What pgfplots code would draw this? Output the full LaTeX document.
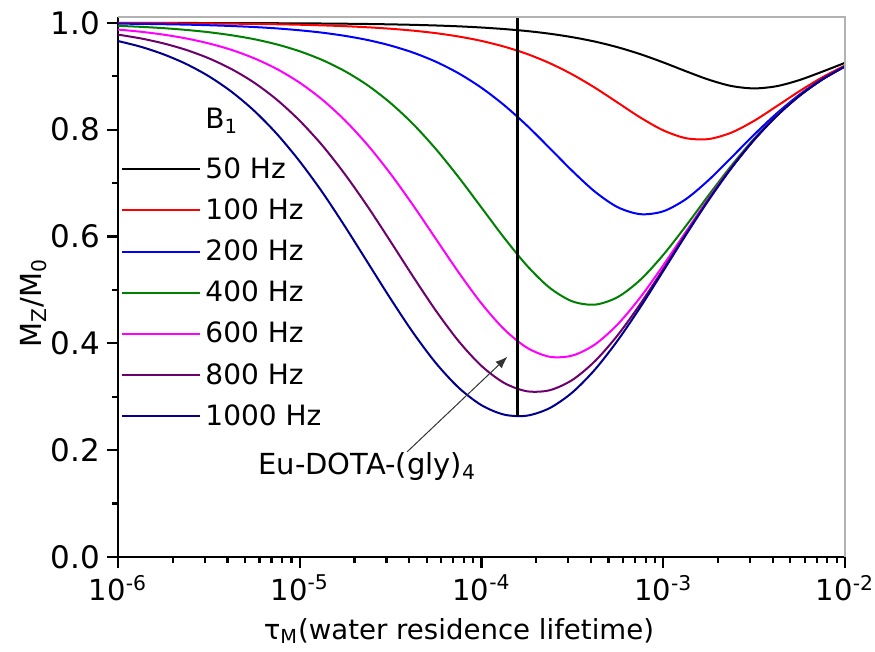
\documentclass[border=0pt]{standalone}
\usepackage{pgfplots}
\pgfplotsset{compat=1.18}
\usepackage{pgfplotstable}
\usepackage{fontspec}
\setmainfont{DejaVu Sans}
\usetikzlibrary{arrows.meta}

\definecolor{cgreen}{RGB}{0,128,0}
\definecolor{cpink}{RGB}{255,0,255}
\definecolor{cpurple}{RGB}{110,0,110}
\definecolor{cnavy}{RGB}{0,0,140}

% Mz/M0, eighth-decade steps in tau
\pgfplotstableread{
tau      b50    b100   b200   b400   b600   b800   b1000
1e-6     0.9999 0.9996 0.9986 0.9944 0.9875 0.9780 0.9660
1.334e-6 0.9999 0.9995 0.9981 0.9926 0.9834 0.9709 0.9553
1.778e-6 0.9998 0.9994 0.9975 0.9901 0.9780 0.9616 0.9412
2.371e-6 0.9998 0.9992 0.9967 0.9868 0.9709 0.9494 0.9231
3.162e-6 0.9997 0.9989 0.9956 0.9825 0.9615 0.9336 0.9000
4.217e-6 0.9996 0.9985 0.9941 0.9768 0.9494 0.9134 0.8710
5.623e-6 0.9995 0.9980 0.9922 0.9694 0.9336 0.8879 0.8352
7.499e-6 0.9993 0.9974 0.9896 0.9596 0.9135 0.8559 0.7918
1e-5     0.9991 0.9965 0.9861 0.9468 0.8879 0.8167 0.7406
1.334e-5 0.9988 0.9953 0.9816 0.9303 0.8560 0.7702 0.6825
1.778e-5 0.9984 0.9938 0.9756 0.9093 0.8171 0.7160 0.6183
2.371e-5 0.9979 0.9917 0.9678 0.8828 0.7708 0.6555 0.5508
3.162e-5 0.9972 0.9890 0.9575 0.8498 0.7172 0.5905 0.4834
4.217e-5 0.9963 0.9854 0.9442 0.8101 0.6579 0.5243 0.4194
5.623e-5 0.9951 0.9807 0.9271 0.7634 0.5951 0.4607 0.3627
7.499e-5 0.9935 0.9744 0.9054 0.7107 0.5325 0.4038 0.3168
1e-4     0.9913 0.9662 0.8784 0.6541 0.4746 0.3577 0.2842
1.334e-4 0.9884 0.9555 0.8458 0.5974 0.4262 0.3258 0.2665
1.778e-4 0.9847 0.9419 0.8078 0.5456 0.3919 0.3103 0.2646
2.371e-4 0.9797 0.9246 0.7656 0.5041 0.3749 0.3122 0.2787
3.162e-4 0.9732 0.9034 0.7227 0.4786 0.3771 0.3315 0.3081
4.217e-4 0.9649 0.8784 0.6837 0.4725 0.3981 0.3669 0.3512
5.623e-4 0.9543 0.8506 0.6548 0.4867 0.4358 0.4155 0.4057
7.499e-4 0.9413 0.8226 0.6418 0.5192 0.4866 0.4743 0.4682
1e-3     0.9260 0.7988 0.6472 0.5656 0.5460 0.5389 0.5354
1.334e-3 0.9094 0.7841 0.6701 0.6200 0.6091 0.6051 0.6032
1.778e-3 0.8937 0.7825 0.7057 0.6773 0.6714 0.6692 0.6682
2.371e-3 0.8818 0.7945 0.7478 0.7326 0.7295 0.7286 0.7281
3.162e-3 0.8773 0.8166 0.7907 0.7831 0.7815 0.7811 0.7808
4.217e-3 0.8815 0.8441 0.8307 0.8270 0.8263 0.8261 0.8260
5.623e-3 0.8930 0.8722 0.8657 0.8640 0.8636 0.8636 0.8635
7.499e-3 0.9086 0.8980 0.8950 0.8942 0.8941 0.8940 0.8940
1e-2     0.9252 0.9201 0.9187 0.9185 0.9184 0.9184 0.9183
}\mzdata

\begin{document}
\begin{tikzpicture}
\begin{axis}[
    name=ax,
    scale only axis,
    width=363.5pt, height=270pt,
    xmode=log,
    xmin=1e-6, xmax=1e-2,
    ymin=0, ymax=1.011,
    clip=false,
    axis x line*=bottom, axis y line*=left,
    axis line style={line width=1.2pt, -},
    xtick={1e-6,1e-5,1e-4,1e-3,1e-2},
    xticklabels={10\textsuperscript{-6},10\textsuperscript{-5},10\textsuperscript{-4},10\textsuperscript{-3},10\textsuperscript{-2}},
    minor xtick={2e-6,3e-6,4e-6,5e-6,6e-6,7e-6,8e-6,9e-6,
                 2e-5,3e-5,4e-5,5e-5,6e-5,7e-5,8e-5,9e-5,
                 2e-4,3e-4,4e-4,5e-4,6e-4,7e-4,8e-4,9e-4,
                 2e-3,3e-3,4e-3,5e-3,6e-3,7e-3,8e-3,9e-3},
    ytick={0,0.2,0.4,0.6,0.8,1.0},
    yticklabels={0.0,0.2,0.4,0.6,0.8,1.0},
    minor ytick={0.1,0.3,0.5,0.7,0.9},
    tick align=outside,
    major tick length=5.5pt, minor tick length=3pt,
    every tick/.style={black, line width=1.1pt},
    xticklabel style={font=\fontsize{14.5}{16}\selectfont},
    yticklabel style={font=\fontsize{15.5}{17}\selectfont},
    legend cell align=left,
    legend style={draw=none, fill=none, at={(rel axis cs:-0.004,0.846)}, anchor=north west,
        font=\fontsize{14}{16}\selectfont, row sep=4.7pt},
    legend image code/.code={\draw[#1, line width=1pt] (0pt,0pt) -- (39pt,0pt);},
]
\addlegendimage{empty legend}
\addlegendentry{\raisebox{4pt}{B\textsubscript{1}}}
\addplot[black, line width=1pt, smooth] table[x=tau, y=b50] {\mzdata};
\addlegendentry{50 Hz}
\addplot[red, line width=1pt, smooth] table[x=tau, y=b100] {\mzdata};
\addlegendentry{100 Hz}
\addplot[blue, line width=1pt, smooth] table[x=tau, y=b200] {\mzdata};
\addlegendentry{200 Hz}
\addplot[cgreen, line width=1pt, smooth] table[x=tau, y=b400] {\mzdata};
\addlegendentry{400 Hz}
\addplot[cpink, line width=1pt, smooth] table[x=tau, y=b600] {\mzdata};
\addlegendentry{600 Hz}
\addplot[cpurple, line width=1pt, smooth] table[x=tau, y=b800] {\mzdata};
\addlegendentry{800 Hz}
\addplot[cnavy, line width=1pt, smooth] table[x=tau, y=b1000] {\mzdata};
\addlegendentry{1000 Hz}

% Eu-DOTA-(gly)4 marker line
\addplot[black, line width=1.6pt, forget plot] coordinates {(1.585e-4,1.011) (1.585e-4,0.2634)};

\draw[gray!60, line width=0.6pt] (rel axis cs:0,1) -- (rel axis cs:1,1) -- (rel axis cs:1,0);

\draw[-{Latex[length=6pt,width=4.5pt]}, black!80, line width=0.5pt]
    (axis cs:3.9e-5,0.197) -- (axis cs:1.39e-4,0.375);
\node[anchor=base west, font=\fontsize{14.5}{16}\selectfont, inner sep=0pt]
    at (axis cs:5.9e-6,0.154) {Eu-DOTA-(gly)\textsubscript{4}};

\node[rotate=90, font=\fontsize{14.5}{16}\selectfont] at ([xshift=-42pt]rel axis cs:0,0.47)
    {M\textsubscript{Z}/M\textsubscript{0}};
\node[font=\fontsize{13.8}{16}\selectfont] at ([yshift=-37pt]rel axis cs:0.469,0)
    {τ\textsubscript{M}(water residence lifetime)};
\end{axis}
\pgfresetboundingbox
\useasboundingbox ([shift={(-59pt,-47.5pt)}]ax.south west) rectangle ([shift={(15pt,8.5pt)}]ax.north east);
\end{tikzpicture}
\end{document}
